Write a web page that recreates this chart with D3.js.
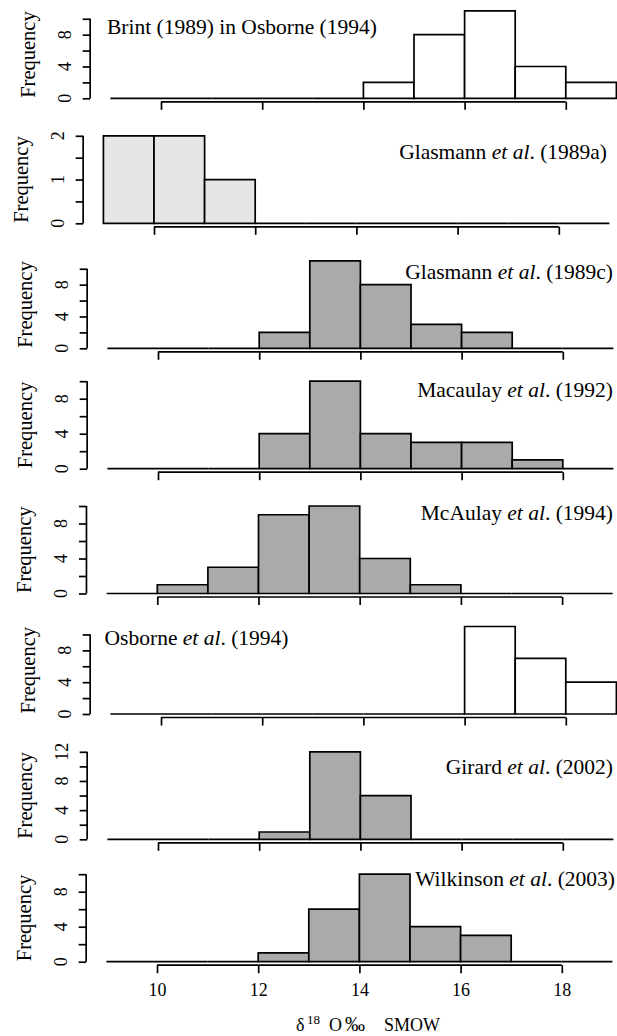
<!DOCTYPE html>
<html><head><meta charset="utf-8">
<script src="https://cdn.jsdelivr.net/npm/d3@7"></script>
<style>
body{margin:0;background:#fff}
svg{display:block}
text{font-family:"Liberation Serif","Times New Roman",serif;fill:#000}
</style>
</head><body>
<svg id="chart" width="617" height="1036"></svg>
<script>
// ---------- data ----------
const binEdges = [9, 10, 11, 12, 13, 14, 15, 16, 17, 18, 19];
const xTicks = [10, 12, 14, 16, 18];

const countsBrint      = [0, 0, 0, 0, 0, 2, 8, 11, 4, 2];
const countsGlasmannA  = [2, 2, 1, 0, 0, 0, 0, 0, 0, 0];
const countsGlasmannC  = [0, 0, 0, 2, 11, 8, 3, 2, 0, 0];
const countsMacaulay   = [0, 0, 0, 4, 10, 4, 3, 3, 1, 0];
const countsMcAulay    = [0, 1, 3, 9, 10, 4, 1, 0, 0, 0];
const countsOsborne    = [0, 0, 0, 0, 0, 0, 0, 11, 7, 4];
const countsGirard     = [0, 0, 0, 1, 12, 6, 0, 0, 0, 0];
const countsWilkinson  = [0, 0, 0, 1, 6, 10, 4, 3, 0, 0];

const yTicksTen = [0, 2, 4, 6, 8, 10];
const yLabelsTen = [0, 4, 8];
const yTicksTwo = [0, 0.5, 1, 1.5, 2];
const yLabelsTwo = [0, 1, 2];
const yTicksTwelve = [0, 2, 4, 6, 8, 10, 12];
const yLabelsTwelve = [0, 4, 8, 12];

// label: [upright, italic, upright]
const studyLabels = [
  ["Brint (1989) in Osborne (1994)", "", ""],
  ["Glasmann ", "et al", ". (1989a)"],
  ["Glasmann ", "et al", ". (1989c)"],
  ["Macaulay ", "et al", ". (1992)"],
  ["McAulay ", "et al", ". (1994)"],
  ["Osborne ", "et al", ". (1994)"],
  ["Girard ", "et al", ". (2002)"],
  ["Wilkinson ", "et al", ". (2003)"]
];
const studyCounts = [countsBrint, countsGlasmannA, countsGlasmannC, countsMacaulay,
                     countsMcAulay, countsOsborne, countsGirard, countsWilkinson];
const studyYTicks = [yTicksTen, yTicksTwo, yTicksTen, yTicksTen, yTicksTen, yTicksTen, yTicksTwelve, yTicksTen];
const studyYLabels = [yLabelsTen, yLabelsTwo, yLabelsTen, yLabelsTen, yLabelsTen, yLabelsTen, yLabelsTwelve, yLabelsTen];
const xAxisTitle = ["δ", "18", "O", "‰", "SMOW"];

// ---------- styles / layout ----------
const fillWhite = "#ffffff", fillLight = "#e6e6e6", fillGrey = "#aaaaaa";
const studyFills = [fillWhite, fillLight, fillGrey, fillGrey, fillGrey, fillWhite, fillGrey, fillGrey];

const unit = 50.6;      // px per x unit
const plotH = 94.5;     // plot region height
const layout = [
  {x10: 161,   bottom: 101.8, lx: 107,   anchor: "start", ly: 34},
  {x10: 154,   bottom: 226.8, lx: 607,   anchor: "end",   ly: 159},
  {x10: 158,   bottom: 351.8, lx: 613,   anchor: "end",   ly: 279},
  {x10: 158,   bottom: 472.2, lx: 613,   anchor: "end",   ly: 397},
  {x10: 157.3, bottom: 597,   lx: 613,   anchor: "end",   ly: 520},
  {x10: 161,   bottom: 717.5, lx: 104.6, anchor: "start", ly: 645},
  {x10: 158,   bottom: 842.8, lx: 613,   anchor: "end",   ly: 774},
  {x10: 157,   bottom: 965.2, lx: 615,   anchor: "end",   ly: 886}
];
const SW = 1.7;

const svg = d3.select("#chart");

studyCounts.forEach((counts, i) => {
  const L = layout[i];
  const m = d3.max(counts);
  const x = d3.scaleLinear().domain([8.6, 19.4]).range([L.x10 - 1.4 * unit, L.x10 + 9.4 * unit]);
  const y = d3.scaleLinear().domain([-0.04 * m, 1.04 * m]).range([L.bottom, L.bottom - plotH]);
  const g = svg.append("g");
  const axisX = x(8.6);

  const bins = counts.map((c, j) => ({x0: binEdges[j], x1: binEdges[j + 1], c}));
  g.selectAll("path.bar").data(bins).join("path")
    .attr("class", "bar")
    .attr("d", d => `M${x(d.x0)},${y(0)}V${y(d.c)}H${x(d.x1)}V${y(0)}Z`)
    .attr("fill", studyFills[i])
    .attr("stroke", "#000")
    .attr("stroke-width", SW);

  // x axis
  const isLast = i === studyCounts.length - 1;
  const xAxis = d3.axisBottom(x).tickValues(xTicks).tickSize(8).tickSizeOuter(0).tickPadding(10)
    .tickFormat(isLast ? d3.format("d") : () => "");
  const gx = g.append("g").attr("transform", `translate(0,${L.bottom})`).call(xAxis);
  gx.select(".domain").remove();
  gx.attr("font-family", null).attr("font-size", null);
  gx.selectAll("line").attr("stroke-width", SW);
  gx.selectAll("text").attr("font-size", 18);
  g.append("line")
    .attr("x1", x(xTicks[0])).attr("x2", x(xTicks[xTicks.length - 1]))
    .attr("y1", L.bottom).attr("y2", L.bottom)
    .attr("stroke", "#000").attr("stroke-width", SW);

  // y axis
  const yt = studyYTicks[i];
  const yAxis = d3.axisLeft(y).tickValues(yt).tickSize(7.5).tickSizeOuter(0).tickFormat(() => "");
  const gy = g.append("g").attr("transform", `translate(${axisX},0)`).call(yAxis);
  gy.select(".domain").remove();
  gy.selectAll("line").attr("stroke-width", SW);
  g.append("line")
    .attr("x1", axisX).attr("x2", axisX)
    .attr("y1", y(yt[0])).attr("y2", y(yt[yt.length - 1]))
    .attr("stroke", "#000").attr("stroke-width", SW);

  g.selectAll("text.yl").data(studyYLabels[i]).join("text")
    .attr("class", "yl")
    .attr("transform", d => `translate(${axisX - 19.5},${y(d)}) rotate(-90)`)
    .attr("text-anchor", "middle")
    .attr("font-size", 18)
    .text(d => d);

  g.append("text")
    .attr("transform", `translate(${axisX - 55},${L.bottom - plotH / 2}) rotate(-90)`)
    .attr("text-anchor", "middle")
    .attr("font-size", 20.5)
    .text("Frequency");

  // study label
  const lab = studyLabels[i];
  const t = g.append("text")
    .attr("x", L.lx).attr("y", L.ly)
    .attr("text-anchor", L.anchor)
    .attr("font-size", 21.5);
  t.append("tspan").text(lab[0]);
  if (lab[1]) t.append("tspan").attr("font-style", "italic").text(lab[1]);
  if (lab[2]) t.append("tspan").text(lab[2]);
});

// x-axis title
const xt = svg.append("text").attr("y", 1031).attr("font-size", 18);
xt.append("tspan").attr("x", 296).text(xAxisTitle[0]);
xt.append("tspan").attr("x", 307).attr("dy", -7).attr("font-size", 13).text(xAxisTitle[1]);
xt.append("tspan").attr("x", 329).attr("dy", 7).text(xAxisTitle[2]);
xt.append("tspan").attr("x", 345).attr("font-size", 20).text(xAxisTitle[3]);
xt.append("tspan").attr("x", 384).attr("font-size", 18).text(xAxisTitle[4]);
</script>
</body></html>
